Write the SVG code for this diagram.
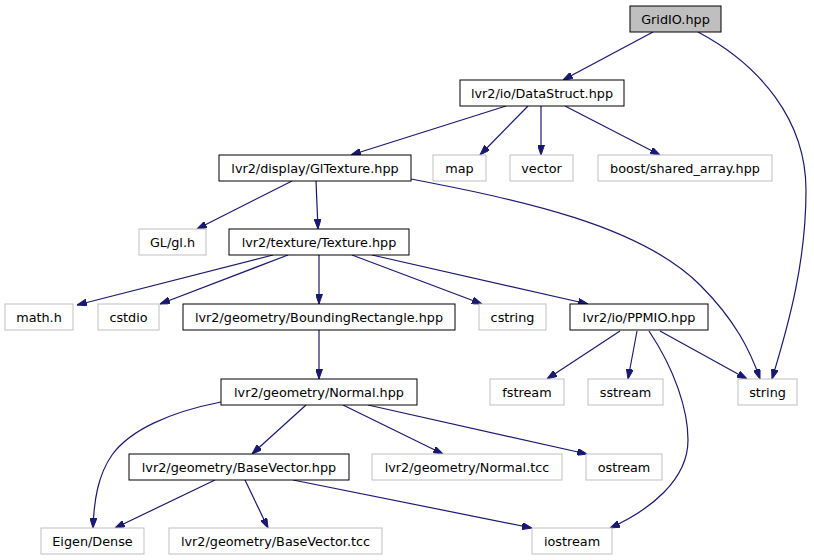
<svg xmlns="http://www.w3.org/2000/svg" width="814" height="560" viewBox="0 0 814 560">
<style>
.n rect{fill:#fff;stroke:#000;stroke-width:1}
.u rect{fill:#fff;stroke:#bfbfbf;stroke-width:1}
.r rect{fill:#bfbfbf;stroke:#000;stroke-width:1}
text{font-family:"DejaVu Sans","Liberation Sans",sans-serif;font-size:12.8px;fill:#000;text-anchor:middle}
.e path{fill:none;stroke:#191970;stroke-width:1.2;marker-end:url(#a)}
</style>
<defs>
<marker id="a" viewBox="0 0 10 7" refX="10" refY="3.5" markerWidth="10" markerHeight="7" orient="auto" markerUnits="userSpaceOnUse">
<path d="M0,0 L10,3.5 L0,7 z" fill="#191970" stroke="#191970"/>
</marker>
</defs>
<rect width="814" height="560" fill="#fff"/>
<g class="e" id="edges">
<path d="M653,32 L563,80"/>
<path d="M698,32 C760,65 806,120 806,190 C806,260 790,320 772,379"/>
<path d="M506,106 L351,155"/>
<path d="M528,106 L480,155"/>
<path d="M541,106 L541,155"/>
<path d="M565,106 L660,155"/>
<path d="M292,181 L197,229"/>
<path d="M316,181 L318,229"/>
<path d="M411,179 C520,200 640,225 700,285 C735,320 750,350 760,379"/>
<path d="M273,255 L77,305"/>
<path d="M288,255 L160,304"/>
<path d="M319,255 L319,304"/>
<path d="M352,255 L482,304"/>
<path d="M372,255 L588,304"/>
<path d="M319,330 L319,379"/>
<path d="M620,331 L547,379"/>
<path d="M637,331 L628,379"/>
<path d="M660,331 L747,379"/>
<path d="M649,331 C675,370 688,410 688,440 C688,480 650,510 610,528"/>
<path d="M221,402 C170,412 130,430 112,455 C98,475 94,500 93,528"/>
<path d="M306,405 L252,454"/>
<path d="M343,405 L443,454"/>
<path d="M368,405 L587,454"/>
<path d="M215,480 L115,528"/>
<path d="M245,480 L268,528"/>
<path d="M293,480 L532,528"/>
</g>
<g id="gridio" class="r"><rect x="630" y="6" width="91" height="26"/><text x="675.5" y="23.5">GridIO.hpp</text></g>
<g id="datastruct" class="n"><rect x="460" y="80" width="164" height="26"/><text x="542" y="97.5">lvr2/io/DataStruct.hpp</text></g>
<g id="map" class="u"><rect x="433" y="155" width="53" height="26"/><text x="459.5" y="172.5">map</text></g>
<g id="vector" class="u"><rect x="510" y="155" width="63" height="26"/><text x="541.5" y="172.5">vector</text></g>
<g id="boost" class="u"><rect x="598" y="155" width="174" height="26"/><text x="685" y="172.5">boost/shared_array.hpp</text></g>
<g id="gltexture" class="n"><rect x="219" y="155" width="192" height="26"/><text x="315" y="172.5">lvr2/display/GlTexture.hpp</text></g>
<g id="glh" class="u"><rect x="139" y="229" width="67" height="26"/><text x="172.5" y="246.5">GL/gl.h</text></g>
<g id="texture" class="n"><rect x="229" y="229" width="180" height="26"/><text x="319" y="246.5">lvr2/texture/Texture.hpp</text></g>
<g id="mathh" class="u"><rect x="5" y="304" width="68" height="26"/><text x="39" y="321.5">math.h</text></g>
<g id="cstdio" class="u"><rect x="98" y="304" width="61" height="26"/><text x="128.5" y="321.5">cstdio</text></g>
<g id="boundingrect" class="n"><rect x="183" y="304" width="272" height="26"/><text x="319" y="321.5">lvr2/geometry/BoundingRectangle.hpp</text></g>
<g id="cstring" class="u"><rect x="479" y="304" width="67" height="26"/><text x="512.5" y="321.5">cstring</text></g>
<g id="ppmio" class="n"><rect x="570" y="304" width="138" height="26"/><text x="639" y="321.5">lvr2/io/PPMIO.hpp</text></g>
<g id="normal" class="n"><rect x="221" y="379" width="196" height="26"/><text x="319" y="396.5">lvr2/geometry/Normal.hpp</text></g>
<g id="fstream" class="u"><rect x="490" y="379" width="74" height="26"/><text x="527" y="396.5">fstream</text></g>
<g id="sstream" class="u"><rect x="588" y="379" width="75" height="26"/><text x="625.5" y="396.5">sstream</text></g>
<g id="string" class="u"><rect x="738" y="379" width="59" height="26"/><text x="767.5" y="396.5">string</text></g>
<g id="basevector" class="n"><rect x="129" y="454" width="220" height="26"/><text x="239" y="471.5">lvr2/geometry/BaseVector.hpp</text></g>
<g id="normaltcc" class="u"><rect x="372" y="454" width="190" height="26"/><text x="467" y="471.5">lvr2/geometry/Normal.tcc</text></g>
<g id="ostream" class="u"><rect x="586" y="454" width="76" height="26"/><text x="624" y="471.5">ostream</text></g>
<g id="eigen" class="u"><rect x="41" y="528" width="103" height="26"/><text x="92.5" y="545.5">Eigen/Dense</text></g>
<g id="basevectortcc" class="u"><rect x="169" y="528" width="213" height="26"/><text x="275.5" y="545.5">lvr2/geometry/BaseVector.tcc</text></g>
<g id="iostream" class="u"><rect x="532" y="528" width="80" height="26"/><text x="572" y="545.5">iostream</text></g>
</svg>
